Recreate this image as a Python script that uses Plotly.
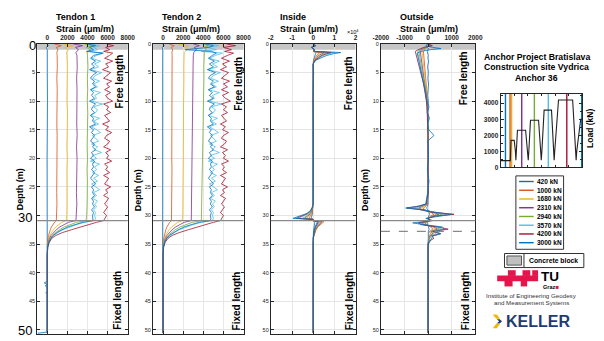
import plotly.graph_objects as go

W, H = 604, 341
FONT = "Liberation Sans, Arial, sans-serif"

# ---------------- data ----------------
LOAD_LABELS = ["420 kN", "1000 kN", "1680 kN", "2310 kN", "2940 kN", "3570 kN", "4200 kN", "3000 kN"]
COLORS = ["#0072BD", "#D95319", "#EDB120", "#7E2F8E", "#77AC30", "#4DBEEE", "#A2142F", "#0072BD"]

# depth sampling (m)
DEPTH_T_420 = [0, 0.3, 0.6, 1.0, 5, 10, 20, 30, 40, 41.5, 41.8, 42.1, 42.3, 42.6, 43.3, 43.5, 43.8, 50.4, 50.6]
DEPTH_COARSE = [0, 0.3, 0.6, 1.0, 1.5, 2, 4, 6, 8, 10, 12, 14, 16, 18, 20, 22, 24, 26, 28, 30, 30.5,
                30.9, 31.2, 31.6, 32.0, 32.5, 33.0, 33.5, 34.0, 34.7, 35.5, 37, 40, 45, 50.5]
DEPTH_FINE = [0, 0.3, 0.6, 1.0, 1.3, 1.6,
              2.0, 2.5, 3.0, 3.5, 4.0, 4.5, 5.0, 5.5, 6.0, 6.5, 7.0, 7.5, 8.0, 8.5, 9.0, 9.5, 10.0, 10.5,
              11.0, 11.5, 12.0, 12.5, 13.0, 13.5, 14.0, 14.5, 15.0, 15.5, 16.0, 16.5, 17.0, 17.5, 18.0, 18.5,
              19.0, 19.5, 20.0, 20.5, 21.0, 21.5, 22.0, 22.5, 23.0, 23.5, 24.0, 24.5, 25.0, 25.5, 26.0, 26.5,
              27.0, 27.5, 28.0, 28.5, 29.0, 29.5, 30.0, 30.5,
              30.9, 31.2, 31.6, 32.0, 32.5, 33.0, 33.5, 34.0, 34.7, 35.5, 37, 40, 45, 50.5]
DEPTH_IN = [0, 0.3, 0.6, 1.0, 1.3, 1.5, 1.7, 2.0, 2.4, 2.8, 3.2, 3.6, 5, 10, 15, 20, 25,
            28.0, 28.6, 29.2, 29.7, 30.1, 30.5, 30.7, 30.9, 31.1, 31.5, 32.0, 32.6, 33.2, 33.8, 35, 40, 45, 50.5]
DEPTH_OUT = [0, 0.3, 0.6, 0.8, 1.0, 1.3, 1.6, 2.0, 2.5,
             3, 4, 5, 6, 7, 8, 9, 10, 11, 12, 13, 14, 15, 16, 17, 18,
             20, 22, 24, 26, 27, 28,
             28.4, 28.7, 29.0, 29.4, 29.8, 30.1, 30.5, 30.9, 31.3, 31.6, 32.0, 32.4, 32.8, 33.2, 33.6, 34.0, 34.5,
             35, 36, 38, 40, 45, 50.5]

# ---- Tendon 1 strain (um/m) ----
T1_420 = [0, 100, -100, 0, 0, 20, -20, 0, 0, 0, -300, 0, -200, 0, 0, -150, 0, 0, -950]
T1_1000 = [700, 1400, 900, 1050, 950, 980, 1000, 950, 990, 960, 1000, 950, 980, 960, 990, 950, 970, 940, 960, 950,
           940, 900, 720, 560, 420, 300, 200, 130, 80, 40, 10, 0, 0, 0, 0]
T1_1680 = [1600, 2600, 1750, 2100, 1900, 1950, 2000, 1970, 1990, 1950, 2010, 1960, 1980, 1940, 1990, 1950, 1970,
           1930, 1960, 1940, 1930, 1880, 1450, 1150, 850, 600, 400, 250, 150, 70, 20, 0, 0, 0, 0]
T1_2310 = [2600, 3500, 2800, 3100, 2850, 2950, 2980, 2920, 2960, 2940, 2990, 2930, 2970, 2910, 2960, 2930, 2950,
           2900, 2940, 2910, 2900, 2850, 2100, 1650, 1250, 900, 600, 380, 220, 100, 30, 0, 0, 0, 0]
T1_2940 = [3700, 4600, 3850, 4300, 3950, 4000, 4050, 3980, 4020, 3970, 4030, 3990, 4010, 3960, 4000, 3950, 3990,
           3940, 3960, 3920, 3900, 3850, 2900, 2250, 1700, 1200, 800, 500, 300, 130, 40, 0, 0, 0, 0]
T1_3570 = [4300, 5200, 4600, 5000, 4200, 5600,
           4900, 4400, 5300, 4700, 5100, 4300, 5400, 4800, 4500, 5200,
           4600, 5000, 4300, 5300, 4700, 4900, 4400, 5500, 4600, 5000,
           4800, 4300, 5200, 4600, 5100, 4400, 4900, 5300, 4500, 4800,
           5100, 4400, 5000, 4700, 5400, 4500, 4900, 4300, 5200, 4700,
           4900, 4500, 5100, 4600, 5000, 4400, 4800, 5200, 4600, 4900,
           4500, 5000, 4700, 4900, 4600, 4800, 4700, 4800,
           4700, 3700, 2900, 2200, 1550, 1050, 650, 380, 170, 50, 0, 0, 0, 0]
T1_4200 = [5900, 6600, 5800, 6200, 5600, 6500,
           6200, 5700, 6500, 5800, 6100, 5500, 6300, 6000, 5600, 6400,
           5900, 6200, 5700, 6300, 5800, 6000, 6500, 5600, 6100, 5900,
           6300, 5700, 6000, 6200, 5500, 6100, 5800, 6400, 5900, 5700,
           6200, 6000, 5600, 6300, 5800, 6100, 5900, 6400, 5700, 6000,
           5800, 6200, 5600, 6100, 5900, 5700, 6300, 5800, 6000, 5600,
           6100, 5900, 5700, 6000, 5800, 5600, 5900, 5700,
           5600, 4900, 4200, 3400, 2400, 1500, 850, 450, 200, 50, 0, 0, 0, 0]
T1_3000 = [4000, 4800, 4200, 4600, 3900, 5500,
           4600, 4300, 4800, 4400, 4700, 4200, 4900, 4500, 4300, 4700,
           4500, 4800, 4300, 4600, 4400, 4700, 4200, 4800, 4500, 4400,
           4700, 4300, 4600, 4500, 4800, 4200, 4600, 4400, 4700, 4500,
           4300, 4700, 4500, 4800, 4400, 4600, 4300, 4700, 4500, 4600,
           4400, 4700, 4500, 4300, 4600, 4800, 4400, 4600, 4500, 4700,
           4400, 4600, 4500, 4700, 4400, 4600, 4500, 4550,
           4550, 3500, 2700, 2050, 1450, 950, 600, 350, 150, 40, 0, 0, 0, 0]

# ---- Tendon 2 strain (um/m) ----
T2_420 = [0, 80, -80, -40, -50, -60, -50, -60, -50, -50, -50, -50, -50, -50, -50, -50, -50, -50, -50]
T2_1000 = [600, 1100, 800, 950, 870, 900, 890, 880, 900, 870, 890, 880, 870, 890, 860, 880, 870, 860, 870, 860,
           860, 830, 650, 500, 380, 270, 180, 110, 70, 30, 10, 0, 0, 0, 0]
T2_1680 = [1500, 2500, 2200, 2400, 2100, 2080, 2060, 2070, 2040, 2050, 2020, 2030, 2010, 2000, 1990, 2000, 1980,
           1970, 1960, 1950, 1950, 1900, 1450, 1150, 850, 600, 400, 250, 150, 70, 20, 0, 0, 0, 0]
T2_2310 = [3000, 3600, 3100, 3300, 3050, 3000, 2980, 2970, 2960, 2950, 2930, 2940, 2910, 2900, 2890, 2880, 2870,
           2860, 2850, 2840, 2830, 2800, 2100, 1650, 1250, 900, 600, 380, 220, 100, 30, 0, 0, 0, 0]
T2_2940 = [3900, 4500, 4100, 4300, 4100, 4080, 4050, 4060, 4020, 4000, 3990, 3980, 3960, 3950, 3930, 3920, 3900,
           3880, 3870, 3850, 3850, 3800, 2900, 2250, 1700, 1200, 800, 500, 300, 130, 40, 0, 0, 0, 0]
T2_3570 = [4600, 5500, 4400, 5300, 3800, 5900,
           5200, 4600, 5600, 4900, 5400, 4500, 5700, 5000, 4700, 5500,
           4800, 5300, 4500, 5600, 4900, 5100, 4600, 5800, 4800, 5200,
           5000, 4500, 5400, 4800, 5300, 4600, 5100, 5500, 4700, 5000,
           5300, 4600, 5200, 4900, 5600, 4700, 5100, 4500, 5400, 4900,
           5100, 4700, 5300, 4800, 5200, 4600, 5000, 5400, 4800, 5100,
           4700, 5200, 4900, 5100, 4800, 5000, 4900, 5000,
           4900, 3800, 3000, 2300, 1600, 1100, 680, 400, 180, 50, 0, 0, 0, 0]
T2_4200 = [6300, 7200, 6000, 6800, 6100, 7000,
           6400, 5800, 6600, 5900, 6300, 5700, 6500, 6100, 5800, 6600,
           6000, 6400, 5800, 6500, 5900, 6200, 6700, 5800, 6300, 6000,
           6400, 5800, 6100, 6300, 5700, 6200, 5900, 6500, 6000, 5800,
           6300, 6100, 5700, 6400, 5900, 6200, 6000, 6500, 5800, 6100,
           5900, 6300, 5700, 6200, 6000, 5800, 6400, 5900, 6100, 5700,
           6200, 6000, 5800, 6100, 5900, 5700, 6000, 5800,
           5700, 5000, 4300, 3500, 2500, 1600, 900, 480, 200, 50, 0, 0, 0, 0]
T2_3000 = [4200, 5000, 4500, 2200, 4800, 5300,
           4900, 4500, 5100, 4600, 5000, 4400, 5200, 4700, 4500, 5000,
           4700, 5100, 4500, 4900, 4600, 5000, 4400, 5100, 4700, 4600,
           4900, 4500, 4800, 4700, 5000, 4400, 4800, 4600, 4900, 4700,
           4500, 4900, 4700, 5000, 4600, 4800, 4500, 4900, 4700, 4800,
           4600, 4900, 4700, 4500, 4800, 5000, 4600, 4800, 4700, 4900,
           4600, 4800, 4700, 4900, 4600, 4800, 4700, 4750,
           4700, 3600, 2800, 2100, 1500, 1000, 620, 360, 160, 40, 0, 0, 0, 0]

# ---- Inside strain (um/m) ----
IN_420 = [0, 400, -300, 200, 100, 1500, 1100, 750, 450, 200, 50, 0, 0, 0, 0, 0, 0,
          0, -50, -150, -350, -650, -1000, 0, 0, 800, 560, 360, 200, 80, 20, 0, 0, 0, 0]
IN_1000 = [0, 600, -400, 300, 200, 3000, 2250, 1500, 900, 400, 100, 0, 0, 0, 0, 0, 0,
           0, -100, -300, -700, -1300, -2000, 0, 0, 5000, 3500, 2200, 1200, 500, 150, 0, 0, 0, 0]
IN_1680 = [0, 700, -500, 300, 300, 4000, 3000, 2000, 1200, 500, 150, 0, 0, 0, 0, 0, 0,
           0, -150, -450, -1000, -1900, -3000, 0, 0, 4500, 3100, 2000, 1100, 450, 130, 0, 0, 0, 0]
IN_2310 = [0, 800, -500, 400, 300, 5500, 4100, 2700, 1600, 700, 200, 0, 0, 0, 0, 0, 0,
           0, -200, -600, -1400, -2600, -4000, 0, 0, 4000, 2800, 1800, 1000, 400, 120, 0, 0, 0, 0]
IN_2940 = [0, 900, -600, 400, 400, 7000, 5200, 3500, 2100, 900, 250, 0, 0, 0, 0, 0, 0,
           0, -250, -750, -1700, -3200, -5000, 0, 0, 3500, 2400, 1600, 900, 350, 100, 0, 0, 0, 0]
IN_3570 = [0, 1000, -700, 500, 500, 10000, 7500, 5000, 3000, 1200, 300, 0, 0, 0, 0, 0, 0,
           0, -350, -1000, -2400, -4500, -7000, 0, 0, 3000, 2100, 1350, 750, 300, 90, 0, 0, 0, 0]
IN_4200 = [0, 1100, -800, 500, 500, 8500, 6400, 4200, 2500, 1000, 250, 0, 0, 0, 0, 0, 0,
           0, -400, -1200, -2800, -5200, -8000, 0, 0, 2500, 1750, 1100, 600, 250, 80, 0, 0, 0, 0]
IN_3000 = [0, 1200, -900, 600, 600, 13000, 9700, 6500, 3900, 1600, 400, 0, 200, -100, 100, 0, 0,
           0, -500, -1400, -3300, -6200, -9500, 0, 0, 2000, 1400, 900, 500, 200, 60, 0, 0, 0, 0]

# ---- Outside strain (um/m) ----
OUT_420 = [0, 30, -40, 20, 0, -30, -20, 10, -10,
           20, -20, 10, -10, 20, 0, -20, 10, 0, -10, 20, -10, 0, 10, -20, 0,
           10, -10, 0, 20, -10, 0,
           -30, -60, -20, 40, 60, 20, -10, 30, -40, -20, 30, 50, 10, 20, 0, 10, 0,
           0, 0, 0, 0, 0, 0]
OUT_1000 = [0, 80, -60, -100, -150, -200, -190, -180, -170,
            -160, -140, -120, -100, -80, -60, -40, -30, -20, -10, -10, 0, 0, 0, 0, 0,
            0, 0, 0, 0, 0, -20,
            -100, -200, -150, 100, 250, 100, 0, 50, -120, -80, 120, 200, 60, 100, 40, 30, 10,
            0, 0, 0, 0, 0, 0]
OUT_1680 = [0, 100, -80, -150, -220, -260, -250, -240, -230,
            -210, -190, -160, -130, -100, -75, -50, -35, -25, -15, -10, -5, 0, 0, 0, 0,
            0, 0, 0, 0, -10, -30,
            -150, -280, -200, 150, 350, 150, 0, 80, -180, -120, 180, 300, 100, 150, 60, 40, 15,
            0, 0, 0, 0, 0, 0]
OUT_2310 = [0, 120, -100, -200, -280, -330, -320, -310, -300,
            -270, -240, -200, -160, -125, -95, -65, -45, -30, -20, -10, -5, 0, 0, 0, 0,
            0, 0, 0, 0, -10, -40,
            -200, -380, -250, 200, 450, 200, 0, 100, -250, -160, 240, 400, 130, 200, 80, 50, 20,
            0, 0, 0, 0, 0, 0]
OUT_2940 = [0, 140, -120, -250, -330, -390, -380, -370, -360,
            -320, -280, -240, -190, -150, -110, -80, -55, -35, -20, -10, -5, 0, 0, 0, 0,
            0, 0, 0, 0, -20, -50,
            -260, -480, -300, 250, 600, 250, 0, 120, -320, -200, 300, 500, 160, 260, 100, 60, 25,
            0, 0, 0, 0, 0, 0]
OUT_3570 = [0, 160, -150, -280, -370, -440, -430, -420, -400,
            -360, -320, -270, -220, -170, -130, -90, -60, -40, -25, -10, -5, 10, 0, -10, 0,
            0, 10, 0, -10, -30, -60,
            -330, -620, -350, 300, 780, 300, -50, 150, -420, -250, 380, 600, 200, 350, 120, 80, 30,
            0, 0, 0, 0, 0, 0]
OUT_4200 = [0, 180, -180, -320, -420, -540, -520, -500, -470,
            -420, -370, -310, -250, -190, -140, -100, -70, -45, -30, -15, -5, 0, 0, 0, 0,
            0, 0, 0, 0, -40, -80,
            -400, -900, -300, 100, 1100, 300, 0, 100, -400, -300, 400, 850, 200, 500, 150, 250, 50,
            0, 0, 0, 0, 0, 0]
OUT_3000 = [0, -100, 200, 550, 100, -300, -460, -440, -410,
            -370, -320, -270, -210, -160, -120, -80, -50, 40, -30, 60, -20, 30, 250, -20, 10,
            20, -30, 40, -20, -50, -100,
            -450, -950, -200, 200, 1000, 500, -100, 200, -650, -200, 600, 700, 300, 550, 200, 150, 80,
            20, 0, 0, 0, 0, 0]

# ---- load history (right inset) ----
LOAD_TIME = [0, 10, 10.7, 14, 15.2, 15.7, 16.2, 17.3, 25.7, 27.8, 28.4, 29.0, 30.7, 39, 41.2, 41.8, 42.4,
             44.7, 52.3, 54.4, 55.0, 55.6, 59.5, 74, 77.0, 77.6, 78.2, 82.3, 84]
LOAD_KN = [420, 420, 1680, 1680, 1000, 450, 1000, 2310, 2310, 1000, 450, 1000, 2940, 2940, 1000, 450, 1000,
           3570, 3570, 1000, 450, 1000, 4200, 4200, 1000, 450, 1000, 3000, 3000]
STEP_TIMES = [5, 9.7, 11.3, 21.7, 34.7, 49, 68, 83.3]

CONCRETE_DEPTH = 1.0
TRANSITION_DEPTH = 30.9
DASHED_DEPTH = 32.8

T1 = [T1_420, T1_1000, T1_1680, T1_2310, T1_2940, T1_3570, T1_4200, T1_3000]
T2 = [T2_420, T2_1000, T2_1680, T2_2310, T2_2940, T2_3570, T2_4200, T2_3000]
INS = [IN_420, IN_1000, IN_1680, IN_2310, IN_2940, IN_3570, IN_4200, IN_3000]
OUTS = [OUT_420, OUT_1000, OUT_1680, OUT_2310, OUT_2940, OUT_3570, OUT_4200, OUT_3000]
T_DEPTHS = [DEPTH_T_420] + [DEPTH_COARSE] * 4 + [DEPTH_FINE] * 3

# ---------------- helpers ----------------
def fx(p):
    return p / W


def fy(p):
    return 1 - p / H


def ann(text, x, y, size, bold=True, xanchor="center", yanchor="middle", angle=0, color="black"):
    return dict(text=text, x=fx(x), y=fy(y), xref="paper", yref="paper", showarrow=False,
                font=dict(family=FONT, size=size, color=color, weight="bold" if bold else "normal"),
                xanchor=xanchor, yanchor=yanchor, textangle=angle)


def rect(x0, y0, x1, y1, fill, line="rgba(0,0,0,0)", lw=0):
    return dict(type="rect", xref="paper", yref="paper", x0=fx(x0), x1=fx(x1), y0=fy(y1), y1=fy(y0),
                fillcolor=fill, line=dict(color=line, width=lw), layer="above")


def axname(i):
    return ("x", "y") if i == 1 else (f"x{i}", f"y{i}")


def laykey(i):
    return ("xaxis", "yaxis") if i == 1 else (f"xaxis{i}", f"yaxis{i}")


fig = go.Figure()

# ---------------- strain panels ----------------
PANELS = [
    dict(px=(30, 123), xr=[-1000, 8000], tv=[0, 2000, 4000, 6000, 8000], tt=["0", "2000", "4000", "6000", "8000"],
         data=T1, depths=T_DEPTHS),
    dict(px=(149, 242), xr=[-1000, 8000], tv=[0, 2000, 4000, 6000, 8000], tt=["0", "2000", "4000", "6000", "8000"],
         data=T2, depths=T_DEPTHS),
    dict(px=(270, 357), xr=[-20000, 20000], tv=[-20000, -10000, 0, 10000, 20000], tt=["-2", "-1", "0", "1", "2"],
         data=INS, depths=[DEPTH_IN] * 8),
    dict(px=(383, 480), xr=[-2000, 2000], tv=[-2000, -1000, 0, 1000, 2000],
         tt=["-2000", "-1000", "0", "1000", "2000"], data=OUTS, depths=[DEPTH_OUT] * 8),
]
Y_TOP, Y_BOT = 41.7, 337.3
DEPTH_TICKS = list(range(0, 51, 5))
DEPTH_TICKS_P1 = [5, 10, 15, 20, 25, 35, 40, 45]

layout_axes = {}
shapes = []
for i, p in enumerate(PANELS, start=1):
    xa, ya = axname(i)
    xk, yk = laykey(i)
    for k in range(8):
        fig.add_trace(go.Scatter(x=p["data"][k], y=p["depths"][k], mode="lines",
                                 line=dict(color=COLORS[k], width=0.8), xaxis=xa, yaxis=ya,
                                 showlegend=False, hoverinfo="skip"))
    ytv = DEPTH_TICKS_P1 if i == 1 else DEPTH_TICKS
    layout_axes[xk] = dict(
        domain=[fx(p["px"][0]), fx(p["px"][1])], anchor=ya, side="top", range=p["xr"],
        tickvals=p["tv"], ticktext=p["tt"], showline=True, linecolor="#262626", linewidth=1,
        mirror="ticks", ticks="inside", ticklen=3, tickcolor="#262626",
        tickfont=dict(family=FONT, size=6.5, color="#262626", weight="bold"),
        showgrid=True, gridcolor="#e2e2e2", gridwidth=0.8, zeroline=False)
    layout_axes[yk] = dict(
        domain=[fy(Y_BOT), fy(Y_TOP)], anchor=xa, range=[50.8, 0],
        tickvals=ytv, ticktext=[str(v) for v in ytv], showline=True, linecolor="#262626", linewidth=1,
        mirror="ticks", ticks="inside", ticklen=3, tickcolor="#262626",
        tickfont=dict(family=FONT, size=5.5, color="#262626"),
        minor=dict(dtick=5, tick0=0, showgrid=True, gridcolor="#e2e2e2", gridwidth=0.8,
                   ticks="inside", ticklen=3, tickcolor="#262626"),
        showgrid=True, gridcolor="#e2e2e2", gridwidth=0.8, zeroline=False)
    # concrete block band
    shapes.append(dict(type="rect", xref=f"{xa} domain", yref=ya, x0=0, x1=1, y0=0, y1=CONCRETE_DEPTH,
                       fillcolor="#c6c6c6", line=dict(width=0), layer="below"))
    # transition line
    shapes.append(dict(type="line", xref=f"{xa} domain", yref=ya, x0=0, x1=1,
                       y0=TRANSITION_DEPTH, y1=TRANSITION_DEPTH, line=dict(color="#8a8a8a", width=1.3),
                       layer="above"))
shapes.append(dict(type="line", xref="x4 domain", yref="y4", x0=0, x1=1, y0=DASHED_DEPTH, y1=DASHED_DEPTH,
                   line=dict(color="#8a8a8a", width=1.2, dash="dash"), layer="above"))

# ---------------- load inset ----------------
LOAD_MAX = 4570
for t, c in zip(STEP_TIMES, COLORS):
    shapes.append(dict(type="line", xref="x5", yref="y5 domain", x0=t, x1=t, y0=0, y1=1,
                       line=dict(color=c, width=1.4), layer="below"))
fig.add_trace(go.Scatter(x=LOAD_TIME, y=LOAD_KN, mode="lines", line=dict(color="#222222", width=1.1),
                         xaxis="x5", yaxis="y5", showlegend=False, hoverinfo="skip"))
layout_axes["xaxis5"] = dict(domain=[fx(506), fx(590)], anchor="y5", range=[0, 84], showticklabels=False,
                             showline=True, linecolor="#262626", linewidth=1, mirror="ticks", ticks="inside",
                             ticklen=2, dtick=14, tick0=0, tickcolor="#262626", showgrid=False, zeroline=False)
layout_axes["yaxis5"] = dict(domain=[fy(167.3), fy(92.7)], anchor="x5", range=[0, LOAD_MAX],
                             tickvals=[0, 1000, 2000, 3000, 4000], showline=True, linecolor="#262626",
                             linewidth=1, mirror="ticks", ticks="inside", ticklen=3, tickcolor="#262626",
                             minor=dict(ticks="inside", ticklen=2, dtick=500, tickcolor="#262626"),
                             tickfont=dict(family=FONT, size=6.5, color="#262626", weight="bold"),
                             showgrid=False, zeroline=False)

# ---------------- annotations ----------------
annotations = []
TITLE_X = [47.5, 156, 277, 401]
TITLES = ["Tendon 1", "Tendon 2", "Inside", "Outside"]
for tx, tt in zip(TITLE_X, TITLES):
    annotations.append(ann(tt, tx, 14, 9, xanchor="left"))
    annotations.append(ann("Strain (μm/m)", tx, 26, 9, xanchor="left"))
annotations.append(ann("×10<sup>4</sup>", 354, 30, 5.5, bold=False))

FREE_POS = [(115, 80), (236.5, 82), (350, 82), (468, 77)]
FIXED_POS = [(113, 303), (235, 303), (351, 303), (470, 303)]
for (x, y) in FREE_POS:
    annotations.append(ann("Free length", x, y, 10, angle=-90))
for (x, y) in FIXED_POS:
    annotations.append(ann("Fixed length", x, y, 10, angle=-90))

for x in (12, 133, 366):
    annotations.append(ann("Depth (m)", x, 190, 9, angle=-90))

annotations.append(ann("0", 25, 43, 13, bold=False))
annotations.append(ann("30", 17, 218, 13, bold=False))
annotations.append(ann("50", 17, 333, 13, bold=False))

annotations.append(ann("Anchor Project Bratislava", 543, 55, 8.7))
annotations.append(ann("Construction site Vydrica", 543, 65.5, 8.7))
annotations.append(ann("Anchor 36", 543, 76.5, 8.7))
annotations.append(ann("Load (kN)", 598, 128, 8.5, angle=-90))

# legend (custom, compact)
shapes.append(rect(521.7, 176, 570.7, 250.7, "white", "#333333", 1))
for k, (lab, c) in enumerate(zip(LOAD_LABELS, COLORS)):
    yy = 181.7 + 8.9 * k
    shapes.append(dict(type="line", xref="paper", yref="paper", x0=fx(525), x1=fx(540), y0=fy(yy), y1=fy(yy),
                       line=dict(color=c, width=1.4), layer="above"))
    annotations.append(ann(lab, 541.5, yy, 6.5, xanchor="left"))

# concrete block legend
shapes.append(rect(510, 255, 591.5, 269.3, "white", "#333333", 1))
shapes.append(dict(type="line", xref="paper", yref="paper", x0=fx(530), x1=fx(530), y0=fy(255), y1=fy(269.3),
                   line=dict(color="#333333", width=1), layer="above"))
shapes.append(rect(512.5, 257.5, 527.5, 266.8, "#c0c0c0", "#555555", 1))
annotations.append(ann("Concrete block", 560.5, 262.2, 6.8))

# TU Graz logo
TUG_RED = "#E4154B"
for (a, b, c, d) in [(513.5, 272, 521.5, 277.8), (528.5, 272, 536.5, 277.8), (538.5, 272, 544.5, 277.8),
                     (502.5, 277.5, 544.5, 283.2), (510, 283, 518.3, 288.5), (526.7, 283, 533.3, 288.5)]:
    shapes.append(rect(a, b, c, d, TUG_RED))
annotations.append(ann("TU", 545, 278, 13.5, xanchor="left"))
annotations.append(ann("Graz", 548, 289.5, 5.5, xanchor="left"))
shapes.append(rect(562.5, 288, 565.5, 291, TUG_RED))
annotations.append(ann("Institute of Engineering Geodesy", 538, 297.5, 6.2, bold=False, color="#333333"))
annotations.append(ann("and Measurement Systems", 538, 305, 6.2, bold=False, color="#333333"))

# KELLER logo
def poly(points, color):
    path = "M " + " L ".join(f"{fx(a):.5f},{fy(b):.5f}" for a, b in points) + " Z"
    return dict(type="path", xref="paper", yref="paper", path=path, fillcolor=color, line=dict(width=0),
                layer="above")

shapes.append(poly([(498, 317), (502, 317), (505.5, 321.5), (501.5, 321.5)], "#F2B600"))
shapes.append(poly([(502, 321.8), (505, 321.8), (507.5, 324), (505, 326.2), (502, 326.2), (504.5, 324)], "#1F3B73"))
shapes.append(poly([(501.5, 326.5), (505.5, 326.5), (502, 331), (498, 331)], "#F2B600"))
annotations.append(ann("KELLER", 509, 324, 16, xanchor="left", color="#1F3B73"))

fig.update_layout(width=W, height=H, margin=dict(l=0, r=0, t=0, b=0), autosize=False,
                  paper_bgcolor="white", plot_bgcolor="white", showlegend=False,
                  shapes=shapes, annotations=annotations, **layout_axes)
fig.write_html("out.html", config={"displayModeBar": False, "staticPlot": True},
               post_script="document.body.style.margin='0';document.body.style.padding='0';")
